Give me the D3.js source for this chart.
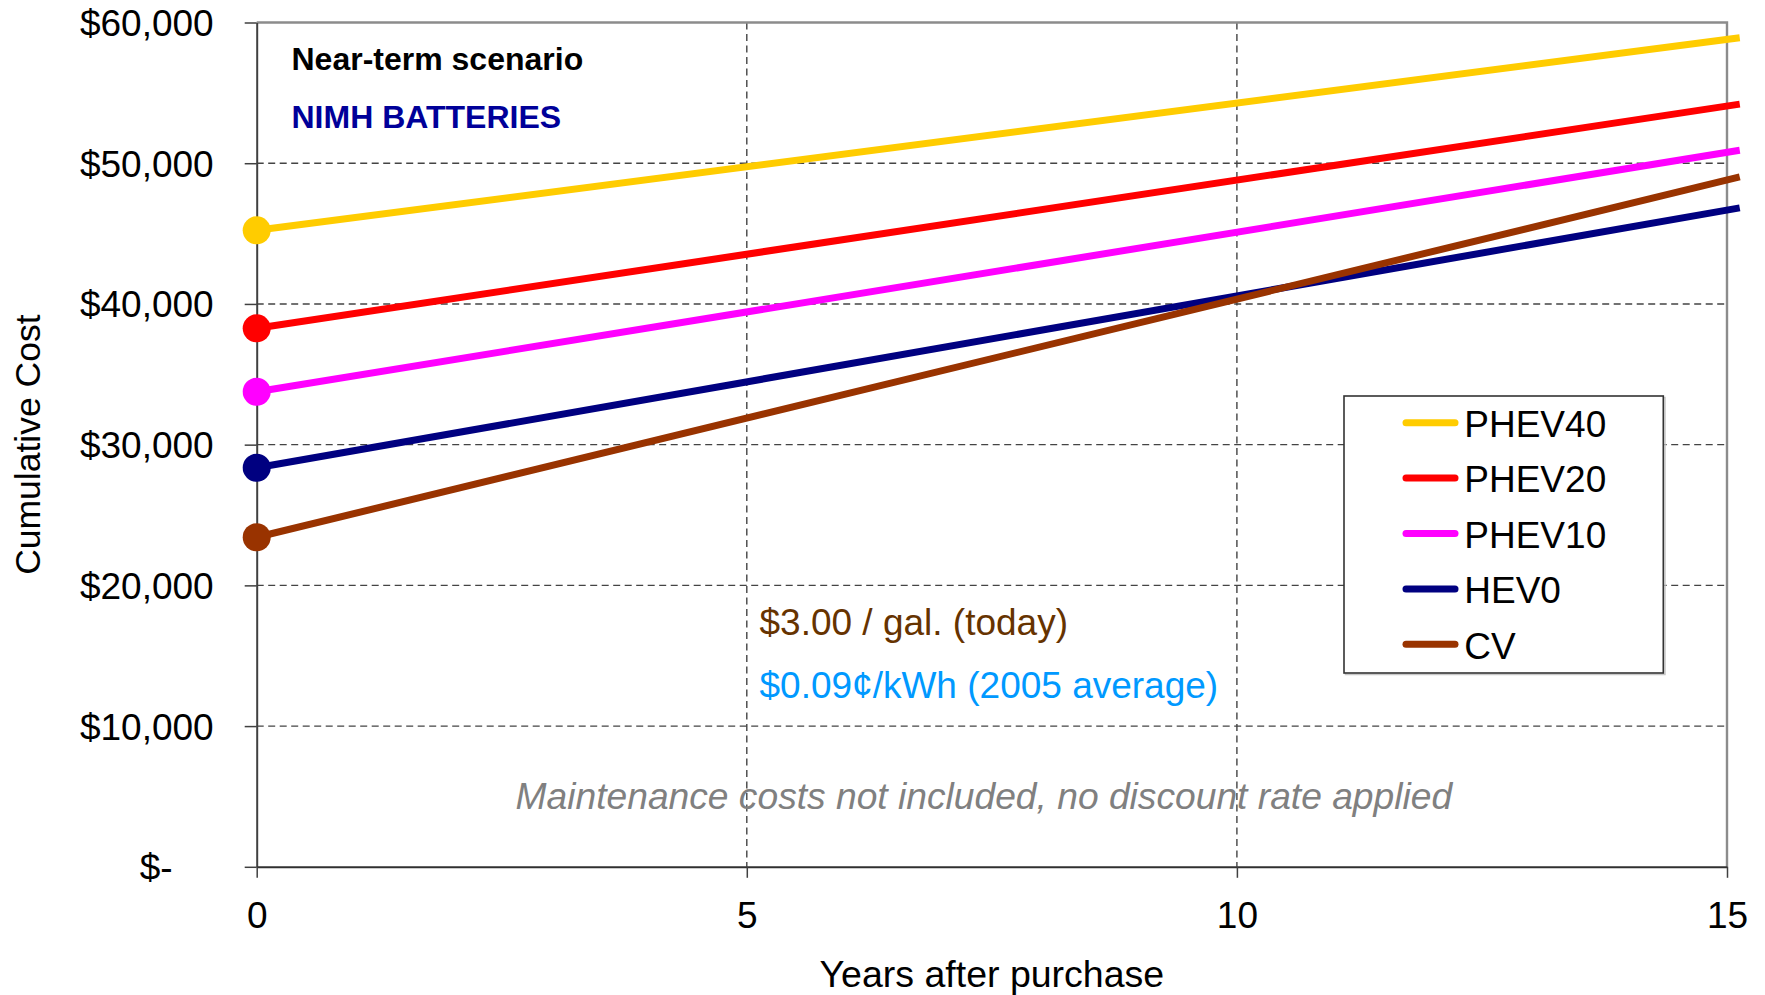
<!DOCTYPE html>
<html>
<head>
<meta charset="utf-8">
<script src="https://cdn.jsdelivr.net/npm/d3@7"></script>
<style>
  html, body { margin: 0; padding: 0; background: #ffffff; }
  svg { display: block; font-family: "Liberation Sans", Arial, Helvetica, sans-serif; }
</style>
</head>
<body>
<svg id="chart" width="1765" height="995"></svg>
<script>
// Cumulative ownership cost by vehicle type (years after purchase)
const years = [0, 15.13];
const seriesNames = ["PHEV40", "PHEV20", "PHEV10", "HEV0", "CV"];
const phev40 = [45230, 58920];
const phev20 = [38270, 54200];
const phev10 = [33760, 50920];
const hev0   = [28360, 46830];
const cv     = [23420, 49030];
const seriesValues = [phev40, phev20, phev10, hev0, cv];
const seriesColors = ["#FFCC00", "#FF0000", "#FF00FF", "#000080", "#993300"];

const xTicks = [0, 5, 10, 15];
const yTicks = [0, 10000, 20000, 30000, 40000, 50000, 60000];

const svg = d3.select("#chart");
const plot = { left: 256.7, right: 1727, top: 22.5, bottom: 866.8 };

const x = d3.scaleLinear().domain([0, 15]).range([plot.left, plot.right]);
const y = d3.scaleLinear().domain([0, 60000]).range([plot.bottom, plot.top]);

const fmtMoney = d3.format("$,.0f");

// dashed gridlines
const grid = svg.append("g").attr("class", "grid");
grid.selectAll("line.h")
  .data(yTicks.filter(v => v > 0 && v < 60000))
  .join("line")
  .attr("class", "h")
  .attr("x1", plot.left).attr("x2", plot.right)
  .attr("y1", d => y(d)).attr("y2", d => y(d))
  .attr("stroke", "#444").attr("stroke-width", 1.4)
  .attr("stroke-dasharray", "7,4.5");
grid.selectAll("line.v")
  .data(xTicks.filter(v => v > 0 && v < 15))
  .join("line")
  .attr("class", "v")
  .attr("x1", d => x(d)).attr("x2", d => x(d))
  .attr("y1", plot.top).attr("y2", plot.bottom)
  .attr("stroke", "#444").attr("stroke-width", 1.4)
  .attr("stroke-dasharray", "7,4.5");

// top and right frame
svg.append("path")
  .attr("d", `M${plot.left},${plot.top}H${plot.right}V${plot.bottom}`)
  .attr("fill", "none").attr("stroke", "#8c8c8c").attr("stroke-width", 2.4);

// y axis
const yAxis = svg.append("g")
  .attr("transform", `translate(${plot.left},0)`)
  .call(d3.axisLeft(y).tickValues(yTicks).tickSizeInner(12).tickSizeOuter(0).tickPadding(31)
    .tickFormat(d => d === 0 ? "$-" : fmtMoney(d)));
yAxis.select(".domain").attr("stroke", "#404040").attr("stroke-width", 2);
yAxis.selectAll(".tick line").attr("stroke", "#404040").attr("stroke-width", 1.5);
yAxis.selectAll(".tick text")
  .attr("font-size", 37).attr("fill", "#000").attr("dy", "0.35em")
  .attr("dx", d => d === 0 ? -41 : 0);

// x axis
const xAxis = svg.append("g")
  .attr("transform", `translate(0,${plot.bottom})`)
  .call(d3.axisBottom(x).tickValues(xTicks).tickSizeInner(11).tickSizeOuter(0)
    .tickFormat(d3.format("d")));
xAxis.select(".domain").attr("stroke", "#303030").attr("stroke-width", 2);
xAxis.selectAll(".tick line").attr("stroke", "#404040").attr("stroke-width", 1.5);
xAxis.selectAll(".tick text")
  .attr("font-size", 37).attr("fill", "#000")
  .attr("y", 61).attr("dy", null);

// series lines
const line = d3.line().x(d => x(d[0])).y(d => y(d[1]));
const seriesData = seriesNames.map((name, i) => ({
  name,
  color: seriesColors[i],
  points: years.map((yr, j) => [yr, seriesValues[i][j]])
}));

svg.append("g").selectAll("path")
  .data(seriesData)
  .join("path")
  .attr("d", d => line(d.points))
  .attr("fill", "none")
  .attr("stroke", d => d.color)
  .attr("stroke-width", 7);

// purchase-price markers at year 0
svg.append("g").selectAll("circle")
  .data(seriesData)
  .join("circle")
  .attr("cx", d => x(d.points[0][0]))
  .attr("cy", d => y(d.points[0][1]))
  .attr("r", 14)
  .attr("fill", d => d.color);

// scenario labels
svg.append("text").attr("x", 291.5).attr("y", 70)
  .attr("font-size", 32).attr("font-weight", "bold").attr("fill", "#000")
  .text("Near-term scenario");
svg.append("text").attr("x", 291.5).attr("y", 127.7)
  .attr("font-size", 32).attr("font-weight", "bold").attr("fill", "#000099")
  .text("NIMH BATTERIES");

// price assumptions
svg.append("text").attr("x", 759.5).attr("y", 635)
  .attr("font-size", 37).attr("fill", "#663300")
  .text("$3.00 / gal. (today)");
svg.append("text").attr("x", 759.5).attr("y", 698)
  .attr("font-size", 37).attr("fill", "#0099FF")
  .text("$0.09¢/kWh (2005 average)");
svg.append("text").attr("x", 515.6).attr("y", 809)
  .attr("font-size", 37.2).attr("font-style", "italic").attr("fill", "#808080")
  .text("Maintenance costs not included, no discount rate applied");

// axis titles
svg.append("text")
  .attr("x", (plot.left + plot.right) / 2).attr("y", 987)
  .attr("text-anchor", "middle").attr("font-size", 37.5).attr("fill", "#000")
  .text("Years after purchase");
svg.append("text")
  .attr("transform", `translate(40,${(plot.top + plot.bottom) / 2}) rotate(-90)`)
  .attr("text-anchor", "middle").attr("font-size", 35.5).attr("fill", "#000")
  .text("Cumulative Cost");

// legend
const legend = svg.append("g");
legend.append("rect")
  .attr("x", 1345.5).attr("y", 397.5).attr("width", 319.5).attr("height", 277)
  .attr("fill", "none").attr("stroke", "#c8c8c8").attr("stroke-width", 1.5);
legend.append("rect")
  .attr("x", 1344).attr("y", 396).attr("width", 319.3).attr("height", 277)
  .attr("fill", "#fff").attr("stroke", "#333").attr("stroke-width", 1.6);
const rows = legend.selectAll("g.item")
  .data(seriesData)
  .join("g")
  .attr("class", "item")
  .attr("transform", (d, i) => `translate(0,${422.7 + i * 55.4})`);
rows.append("line")
  .attr("x1", 1406).attr("x2", 1455).attr("y1", 0).attr("y2", 0)
  .attr("stroke", d => d.color).attr("stroke-width", 7).attr("stroke-linecap", "round");
rows.append("text")
  .attr("x", 1464.3).attr("y", 14.3)
  .attr("font-size", 37).attr("fill", "#000")
  .text(d => d.name);
</script>
</body>
</html>
